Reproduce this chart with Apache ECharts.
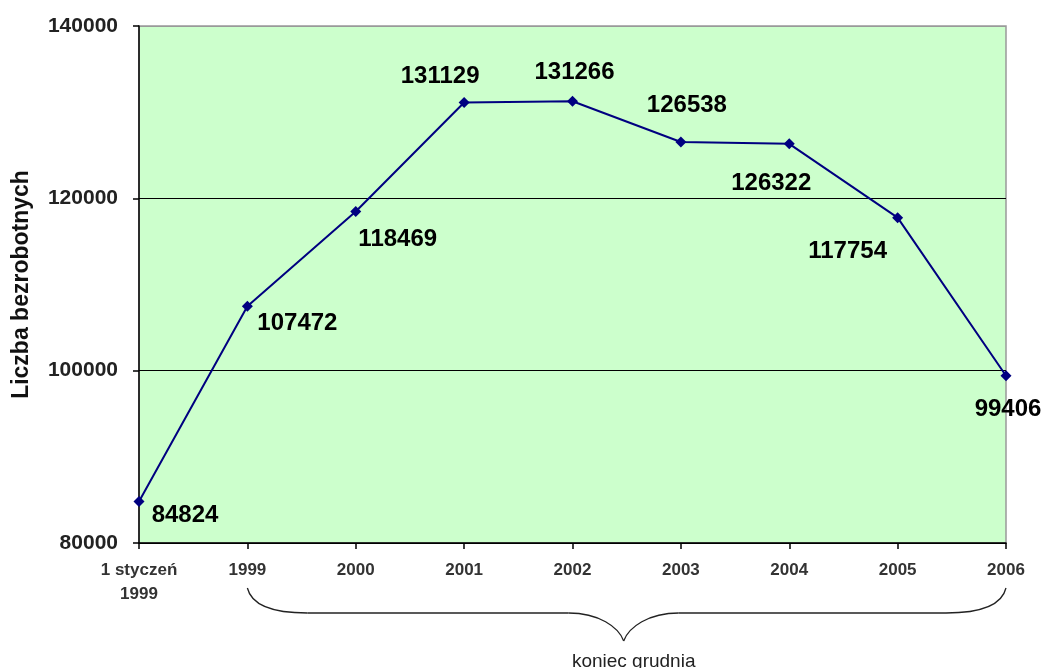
<!DOCTYPE html>
<html>
<head>
<meta charset="utf-8">
<script src="https://cdn.jsdelivr.net/npm/echarts@6/dist/echarts.min.js"></script>
<style>
  html, body { margin: 0; padding: 0; background: #fff; }
  #chart { width: 1051px; height: 668px; }
</style>
</head>
<body>
<div id="chart"></div>
<script>
(function(){
    'use strict';

    var categories = ['1 styczeń\n1999', '1999', '2000', '2001', '2002', '2003', '2004', '2005', '2006'];
    var unemployed = [84824, 107472, 118469, 131129, 131266, 126538, 126322, 117754, 99406];
    // where each value label sits relative to its point (px)
    var labelOffsets = [[46, 14], [50, 17], [42, 28], [-24, -26], [2, -29], [6, -37], [-18, 40], [-50, 34], [2, 34]];
    var braceFrom = '1999';
    var braceTo = '2006';
    var braceText = 'koniec grudnia';

    var font = 'Arial, "Liberation Sans", sans-serif';
    var myChart = echarts.init(document.getElementById('chart'));

    var seriesData = unemployed.map(function(v, i){
        return {
            value: v,
            label: { offset: labelOffsets[i] }
        };
    });

    var option = {
        animation: false,
        grid: {
            left: 139, right: 45, top: 26, bottom: 125,
            outerBoundsMode: 'none',
            containLabel: false,
            show: true,
            backgroundColor: '#ccffcc',
            borderColor: '#999999',
            borderWidth: 1.5
        },
        xAxis: {
            type: 'category',
            data: categories,
            boundaryGap: false,
            axisLine: { lineStyle: { color: '#000', width: 1.5 } },
            axisTick: { show: true, length: 6, lineStyle: { color: '#000', width: 1.5 } },
            axisLabel: {
                color: '#333',
                fontFamily: font,
                fontSize: 17,
                fontWeight: 'bold',
                lineHeight: 24,
                margin: 15,
                interval: 0
            },
            splitLine: { show: false }
        },
        yAxis: {
            type: 'value',
            min: 80000,
            max: 140000,
            interval: 20000,
            name: 'Liczba bezrobotnych',
            nameLocation: 'middle',
            nameRotate: 90,
            nameGap: 106,
            nameTextStyle: { color: '#111', fontFamily: font, fontSize: 23, fontWeight: 'bold' },
            axisLine: { show: true, lineStyle: { color: '#000', width: 1.5 } },
            axisTick: { show: true, length: 6, lineStyle: { color: '#000', width: 1.5 } },
            axisLabel: {
                color: '#222',
                fontFamily: font,
                fontSize: 21,
                fontWeight: 'bold',
                margin: 21,
                formatter: function(v){ return String(v); }
            },
            splitLine: {
                show: true,
                lineStyle: { color: ['#000', '#000', '#000', '#999'], width: 1.2 }
            }
        },
        series: [
            {
                name: 'Liczba bezrobotnych',
                type: 'line',
                data: seriesData,
                symbol: 'diamond',
                symbolSize: 11,
                lineStyle: { color: '#000080', width: 2 },
                itemStyle: { color: '#000080' },
                label: {
                    show: true,
                    position: 'inside',
                    align: 'center',
                    verticalAlign: 'middle',
                    color: '#000',
                    fontFamily: font,
                    fontSize: 24,
                    fontWeight: 'bold'
                },
                z: 5
            }
        ]
    };
    myChart.setOption(option);

    // brace under the year-end categories
    var x1 = myChart.convertToPixel({ xAxisIndex: 0 }, braceFrom);
    var x2 = myChart.convertToPixel({ xAxisIndex: 0 }, braceTo);
    var mid = (x1 + x2) / 2 - 3;
    var yTop = 588, yBar = 613, yTip = 641;
    var braceStyle = { stroke: '#222', lineWidth: 1.3, fill: null };

    myChart.setOption({
        graphic: [
            {
                type: 'bezierCurve',
                shape: { x1: x1, y1: yTop, cpx1: x1 + 5, cpy1: yBar - 4, cpx2: x1 + 35, cpy2: yBar, x2: x1 + 60, y2: yBar },
                style: braceStyle
            },
            {
                type: 'line',
                shape: { x1: x1 + 60, y1: yBar, x2: mid - 55, y2: yBar },
                style: braceStyle
            },
            {
                type: 'bezierCurve',
                shape: { x1: mid - 55, y1: yBar, cpx1: mid - 25, cpy1: yBar, cpx2: mid - 5, cpy2: yTip - 14, x2: mid, y2: yTip },
                style: braceStyle
            },
            {
                type: 'bezierCurve',
                shape: { x1: mid, y1: yTip, cpx1: mid + 5, cpy1: yTip - 14, cpx2: mid + 25, cpy2: yBar, x2: mid + 55, y2: yBar },
                style: braceStyle
            },
            {
                type: 'line',
                shape: { x1: mid + 55, y1: yBar, x2: x2 - 60, y2: yBar },
                style: braceStyle
            },
            {
                type: 'bezierCurve',
                shape: { x1: x2 - 60, y1: yBar, cpx1: x2 - 35, cpy1: yBar, cpx2: x2 - 5, cpy2: yBar - 4, x2: x2, y2: yTop },
                style: braceStyle
            },
            {
                type: 'text',
                x: mid + 10,
                y: 662,
                style: {
                    text: braceText,
                    fill: '#222',
                    font: '19px ' + font,
                    align: 'center',
                    verticalAlign: 'middle'
                }
            }
        ]
    });
})();
</script>
</body>
</html>
